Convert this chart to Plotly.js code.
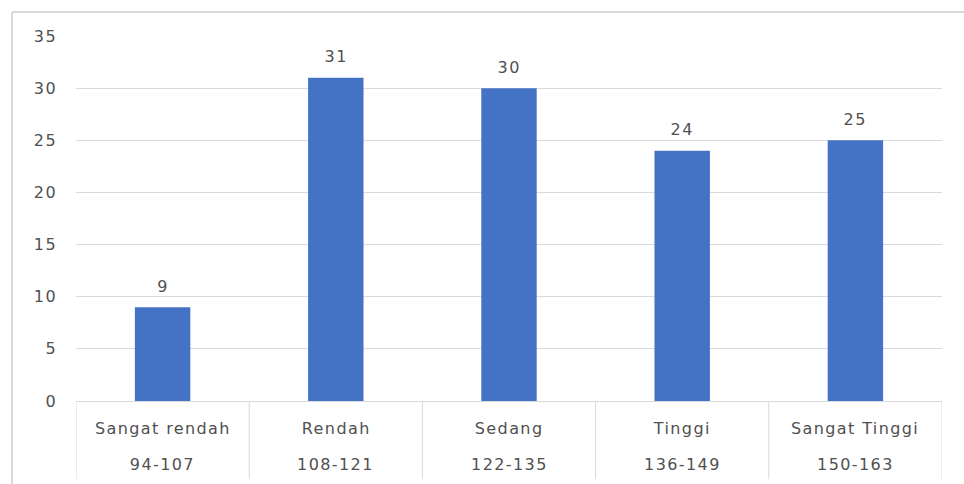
<!DOCTYPE html>
<html>
<head>
<meta charset="utf-8">
<script src="https://cdn.plot.ly/plotly-3.0.1.min.js"></script>
<style>html,body{margin:0;padding:0;background:#fff}#chart{width:964px;height:484px}#chart text{letter-spacing:1.4px}</style>
</head>
<body>
<div id="chart"></div>
<script>
var categories = ["Sangat rendah", "Rendah", "Sedang", "Tinggi", "Sangat Tinggi"];
var ranges = ["94-107", "108-121", "122-135", "136-149", "150-163"];
var values = [9, 31, 30, 24, 25];
var yTicks = [0, 5, 10, 15, 20, 25, 30, 35];

var font = "DejaVu Sans, Liberation Sans, sans-serif";
var grey = "#505050";
var lineCol = "#d9d9d9";

var annotations = [];
var shapes = [];
categories.forEach(function (c, i) {
  annotations.push({x: c, y: -0.074, xref: "x", yref: "paper", text: c, showarrow: false,
    yanchor: "middle", font: {family: font, size: 16, color: grey}});
  annotations.push({x: c, y: -0.175, xref: "x", yref: "paper", text: ranges[i], showarrow: false,
    yanchor: "middle", font: {family: font, size: 16, color: grey}});
  // value labels above bars
  annotations.push({x: c, y: values[i], xref: "x", yref: "y", text: String(values[i]), showarrow: false,
    yanchor: "middle", yshift: 21, font: {family: font, size: 16, color: grey}});
});
for (var i = 0; i <= categories.length; i++) {
  shapes.push({type: "line", xref: "x", yref: "paper", x0: i - 0.5, x1: i - 0.5, y0: 0, y1: -0.214,
    line: {color: lineCol, width: 1}});
}
// outer frame (left and top)
shapes.push({type: "line", xref: "paper", yref: "paper", x0: -0.0739, x1: -0.0739, y0: -0.3, y1: 1.0658,
  line: {color: lineCol, width: 2}});
shapes.push({type: "line", xref: "paper", yref: "paper", x0: -0.0739, x1: 1.03, y0: 1.0658, y1: 1.0658,
  line: {color: lineCol, width: 2}});

var trace = {
  type: "bar",
  x: categories,
  y: values,
  marker: {color: "#4472C4"},
  width: 0.32,
  hoverinfo: "none"
};

var layout = {
  width: 964, height: 484,
  margin: {l: 76, r: 22, t: 36, b: 83},
  paper_bgcolor: "#ffffff", plot_bgcolor: "#ffffff",
  showlegend: false,
  xaxis: {type: "category", range: [-0.5, 4.5], showticklabels: false, ticks: "",
    showgrid: false, zeroline: false, showline: false, fixedrange: true},
  yaxis: {range: [0, 35], tickvals: yTicks, ticktext: yTicks.map(String),
    showgrid: true, gridcolor: lineCol, gridwidth: 1, zeroline: true, zerolinecolor: lineCol, zerolinewidth: 1,
    showline: false, ticks: "", ticklabelstandoff: 18,
    tickfont: {family: font, size: 16, color: grey}, fixedrange: true},
  annotations: annotations,
  shapes: shapes
};

Plotly.newPlot("chart", [trace], layout, {staticPlot: true});
</script>
</body>
</html>
